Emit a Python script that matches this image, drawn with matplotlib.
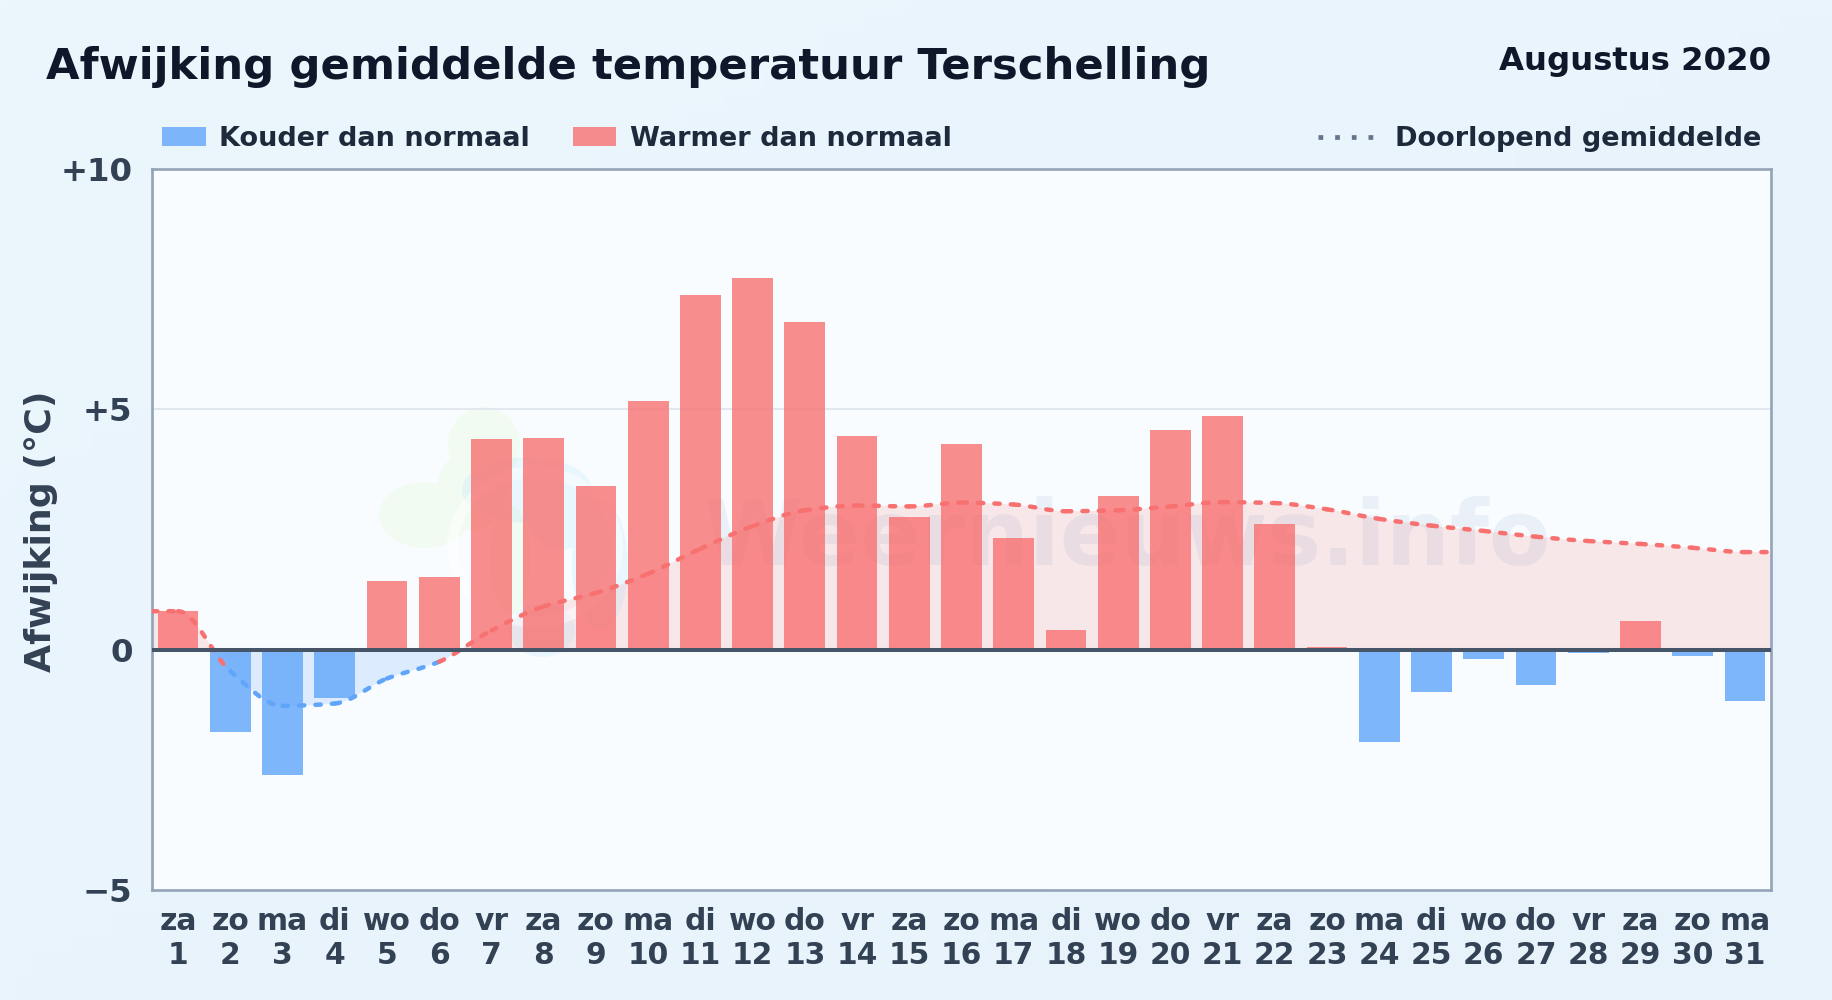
import numpy as np
import matplotlib
matplotlib.use("Agg")
import matplotlib.pyplot as plt
from matplotlib.lines import Line2D
from matplotlib.patches import Rectangle, Ellipse, PathPatch
from matplotlib.path import Path

# Gegevens
dagen = ['za', 'zo', 'ma', 'di', 'wo', 'do', 'vr', 'za', 'zo', 'ma', 'di', 'wo', 'do', 'vr', 'za', 'zo',
         'ma', 'di', 'wo', 'do', 'vr', 'za', 'zo', 'ma', 'di', 'wo', 'do', 'vr', 'za', 'zo', 'ma']
dag_nummers = list(range(1, 32))
afwijking = [0.80, -1.72, -2.60, -1.00, 1.43, 1.52, 4.38, 4.40, 3.40, 5.17, 7.37, 7.73, 6.81, 4.44, 2.75, 4.27,
             2.32, 0.40, 3.20, 4.57, 4.86, 2.62, 0.05, -1.92, -0.88, -0.20, -0.73, -0.07, 0.60, -0.13, -1.07]
gemiddelde = [0.80, -0.45, -1.17, -1.12, -0.60, -0.25, 0.40, 0.90, 1.18, 1.58, 2.10, 2.57, 2.90, 3.00, 2.98, 3.06,
              3.02, 2.88, 2.90, 2.98, 3.07, 3.05, 2.92, 2.72, 2.58, 2.47, 2.35, 2.26, 2.20, 2.12, 2.03]
y_ticks = [-5, 0, 5, 10]
y_labels = ['\u22125', '0', '+5', '+10']

ROOD = '#f87171'
BLAUW = '#60a5fa'
W, H = 1832, 1000


def fx(x):
    return x / W


def fy(y):
    return 1 - y / H


plt.rcParams['font.family'] = 'DejaVu Sans'
plt.rcParams['font.weight'] = 'bold'

fig = plt.figure(figsize=(W / 100, H / 100), dpi=100)

# Achtergrond met lichte diagonale overgang
bg = fig.add_axes([0, 0, 1, 1], zorder=-1)
yy, xx = np.mgrid[0:1:50j, 0:1:90j]
t = ((xx + yy) / 2)[..., None]
kleur = np.array([236, 246, 253]) * (1 - t) + np.array([231, 242, 251]) * t
bg.imshow(kleur.astype(np.uint8), aspect='auto', interpolation='bilinear')
bg.axis('off')

ax = fig.add_axes([fx(152), fy(890), (1771 - 152) / W, (890 - 169) / H])
ax.set_facecolor('#f8fcff')
ax.set_xlim(0.5, 31.5)
ax.set_ylim(-5, 10)

# Vloeiende lijn door de punten, met vlakke raaklijn bij een top of dal
xs = np.array([0.5] + dag_nummers + [31.5], dtype=float)
ys = np.array([gemiddelde[0]] + gemiddelde + [gemiddelde[-1]])
h = np.diff(xs)
d = np.diff(ys) / h
m = np.zeros(len(xs))
for i in range(1, len(xs) - 1):
    if d[i - 1] * d[i] > 0:
        m[i] = 2 * d[i - 1] * d[i] / (d[i - 1] + d[i])
m[-1] = d[-1]

verts, codes = [(xs[0], ys[0])], [Path.MOVETO]
segmenten = []
for i in range(len(xs) - 1):
    c1 = (xs[i] + h[i] / 3, ys[i] + m[i] * h[i] / 3)
    c2 = (xs[i + 1] - h[i] / 3, ys[i + 1] - m[i + 1] * h[i] / 3)
    eind = (xs[i + 1], ys[i + 1])
    verts += [c1, c2, eind]
    codes += [Path.CURVE4] * 3
    segmenten.append(([(xs[i], ys[i]), c1, c2, eind], ys[i] < 0 and ys[i + 1] < 0))

vlak = Path(verts + [(xs[-1], 0), (xs[0], 0), (xs[0], ys[0])], codes + [Path.LINETO] * 3)
boven = PathPatch(vlak, facecolor=ROOD, alpha=0.15, edgecolor='none', zorder=1)
onder = PathPatch(vlak, facecolor=BLAUW, alpha=0.18, edgecolor='none', zorder=1)
ax.add_patch(boven)
ax.add_patch(onder)
boven.set_clip_path(Rectangle((0.5, 0), 31, 10, transform=ax.transData))
onder.set_clip_path(Rectangle((0.5, -5), 31, 5, transform=ax.transData))

# Watermerk (logo en tekst)
logo_groen = [((484, 445), 72, 76), ((425, 515), 92, 66), ((472, 490), 70, 80), ((510, 560), 40, 110)]
logo_blauw = [((527, 490), 130, 66), ((600, 565), 56, 130), ((542, 630), 66, 54), ((560, 510), 70, 80)]
px_trans = fig.transFigure


def blob(delen, kleur, alpha):
    paden = []
    for c, w, h_ in delen:
        e = Ellipse((fx(c[0]), fy(c[1])), w / W, h_ / H)
        paden.append(e.get_path().transformed(e.get_patch_transform()))
    ax.add_patch(PathPatch(Path.make_compound_path(*paden), facecolor=kleur, alpha=alpha, edgecolor='none',
                           transform=px_trans, zorder=1.2, clip_on=False))


blob(logo_groen, '#bef264', 0.09)
blob(logo_blauw, '#7dd3fc', 0.13)
ax.add_patch(Ellipse((fx(535), fy(547)), 165 / W, 150 / H, facecolor='none', edgecolor='white', linewidth=8,
                     alpha=0.5, transform=px_trans, zorder=1.3))
ax.text(fx(703), fy(565), 'Weernieuws.info', fontsize=64.7, fontweight='bold', color='#38689c', alpha=0.075,
        zorder=1.4, ha='left', va='baseline', transform=fig.transFigure)

# Raster en kolommen
ax.axhline(5, color='#e2e8f0', linewidth=1.5, zorder=1.5)
kleuren = [ROOD if v >= 0 else BLAUW for v in afwijking]
ax.bar(dag_nummers, afwijking, width=0.78, color=kleuren, alpha=0.8, zorder=2)

# Doorlopend gemiddelde, per stuk gekleurd
for punten, negatief in segmenten:
    pad = Path(punten, [Path.MOVETO, Path.CURVE4, Path.CURVE4, Path.CURVE4])
    ax.add_patch(PathPatch(pad, fill=False, edgecolor=BLAUW if negatief else ROOD, linewidth=3.2,
                           linestyle=(0, (1.2, 2.5)), capstyle='round', zorder=4))

ax.axhline(0, color='#475569', linewidth=2.9, zorder=5)

for spine in ax.spines.values():
    spine.set_color('#94a3b8')
    spine.set_linewidth(1.9)

ax.set_xticks(dag_nummers, [f'{d_}\n{n}' for d_, n in zip(dagen, dag_nummers)], linespacing=1.25)
ax.set_yticks(y_ticks, y_labels)
ax.tick_params(axis='x', length=0, pad=12, labelsize=21.4, labelcolor='#334155')
ax.tick_params(axis='y', length=0, pad=14, labelsize=23.3, labelcolor='#334155')

fig.text(fx(41), fy(531), 'Afwijking (°C)', rotation=90, fontsize=26.2, color='#334155', ha='center', va='center')

# Titel
fig.text(fx(46), fy(78.5), 'Afwijking gemiddelde temperatuur Terschelling', fontsize=31.2, color='#0f172a',
         ha='left', va='baseline')
fig.text(fx(1771), fy(70), 'Augustus 2020', fontsize=23.3, color='#0f172a', ha='right', va='baseline')

# Legenda
fig.add_artist(Rectangle((fx(162), fy(146)), 44 / W, 19 / H, facecolor=BLAUW, alpha=0.8, transform=fig.transFigure))
fig.add_artist(Rectangle((fx(573), fy(146)), 43 / W, 19 / H, facecolor=ROOD, alpha=0.8, transform=fig.transFigure))
fig.add_artist(Line2D([fx(1318), fx(1373)], [fy(137), fy(137)], color='#64748b', linewidth=3.4,
                      dashes=(1.0, 2.53), dash_capstyle='butt', transform=fig.transFigure))
for x, tekst in [(219, 'Kouder dan normaal'), (630, 'Warmer dan normaal'), (1395, 'Doorlopend gemiddelde')]:
    fig.text(fx(x), fy(146), tekst, fontsize=19.5, color='#1e293b', ha='left', va='baseline')

fig.savefig('out.png', dpi=100)
